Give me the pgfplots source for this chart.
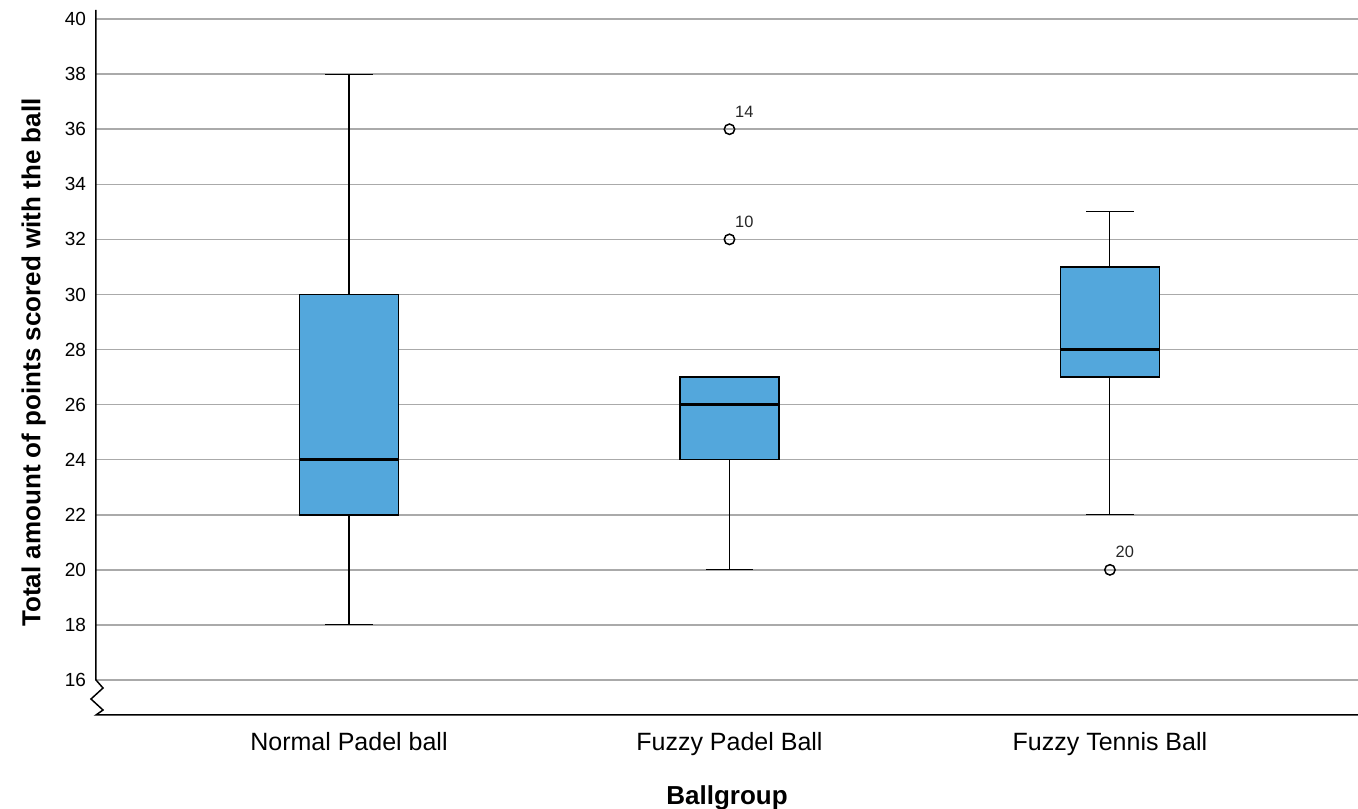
\documentclass[border=0pt]{standalone}
\usepackage{fontspec}
\setmainfont{Liberation Sans}
\usepackage{pgfplots}
\pgfplotsset{compat=1.18}

\definecolor{boxblue}{RGB}{83,167,220}
\definecolor{gridgray}{RGB}{170,170,170}

\begin{document}
\begin{tikzpicture}
\begin{axis}[
  scale only axis,
  width=631pt, height=352.5pt,
  xmin=0.335, xmax=3.652,
  ymin=14.73, ymax=40.33,
  clip=false,
  axis line style={draw=none},
  major tick length=0pt,
  ytick={16,18,...,40},
  ymajorgrids,
  grid style={gridgray, line width=0.75pt},
  xtick={1,2,3},
  xticklabels={Normal Padel ball, Fuzzy Padel Ball, Fuzzy Tennis Ball},
  /pgf/number format/assume math mode=true,
  yticklabel style={font=\fontsize{9.5}{11}\selectfont, xshift=-1.5pt},
  xticklabel style={font=\fontsize{12.5}{14}\selectfont, yshift=-5pt},
  xlabel={\textbf{Ballgroup}},
  ylabel={\textbf{Total amount of points scored with the ball}},
  every axis x label/.style={at={(axis description cs:0.5,-0.118)}, anchor=center, font=\fontsize{13}{15}\selectfont},
  every axis y label/.style={at={(axis description cs:-0.0495,0.5)}, anchor=center, rotate=90, font=\fontsize{13}{15}\selectfont},
  whisker/.style={black, line width=0.55pt, mark=none},
  box/.style={draw=black, line width=0.75pt, line join=miter, fill=boxblue, mark=none},
  median/.style={black, line width=1.3pt, mark=none},
]

% ---- Normal Padel ball: 18 / 22 / 24 / 30 / 38
\addplot[whisker] coordinates {(1,18) (1,22)};
\addplot[whisker] coordinates {(1,30) (1,38)};
\addplot[whisker] coordinates {(0.938,18) (1.062,18)};
\addplot[whisker] coordinates {(0.938,38) (1.062,38)};
\addplot[box] coordinates {(0.87,22) (1.13,22) (1.13,30) (0.87,30)} -- cycle;
\addplot[median] coordinates {(0.87,24) (1.13,24)};

% ---- Fuzzy Padel Ball: 20 / 24 / 26 / 27 / 27
\addplot[whisker] coordinates {(2,20) (2,24)};
\addplot[whisker] coordinates {(1.938,20) (2.062,20)};
\addplot[box] coordinates {(1.87,24) (2.13,24) (2.13,27) (1.87,27)} -- cycle;
\addplot[median] coordinates {(1.87,26) (2.13,26)};

% ---- Fuzzy Tennis Ball: 22 / 27 / 28 / 31 / 33
\addplot[whisker] coordinates {(3,22) (3,27)};
\addplot[whisker] coordinates {(3,31) (3,33)};
\addplot[whisker] coordinates {(2.938,22) (3.062,22)};
\addplot[whisker] coordinates {(2.938,33) (3.062,33)};
\addplot[box] coordinates {(2.87,27) (3.13,27) (3.13,31) (2.87,31)} -- cycle;
\addplot[median] coordinates {(2.87,28) (3.13,28)};

% ---- outliers, labelled with their case numbers
\addplot[only marks, black, mark=o, mark size=2.6pt, mark options={line width=0.75pt},
  nodes near coords, point meta=explicit symbolic,
  nodes near coords style={anchor=base west, inner sep=0pt, xshift=2.5pt, yshift=6pt,
    font=\fontsize{8.2}{10}\selectfont, text=black!85}]
  coordinates {(2,36) [14] (2,32) [10] (3,20) [20]};

% axis lines with the break mark below 16
\draw[black, line width=0.75pt, line join=miter]
  (rel axis cs:0,1) -- (axis cs:0.335,16)
  -- ++(3.5pt,-4pt) -- ++(-6pt,-5.5pt) -- ++(6pt,-5.5pt)
  -- (rel axis cs:0,0) -- (rel axis cs:1,0);

\coordinate (sw) at (rel axis cs:0,0);
\coordinate (ne) at (rel axis cs:1,1);
\end{axis}
\pgfresetboundingbox
\path[use as bounding box] ([xshift=-48pt,yshift=-47pt]sw) rectangle ([yshift=5pt]ne);
\end{tikzpicture}
\end{document}
